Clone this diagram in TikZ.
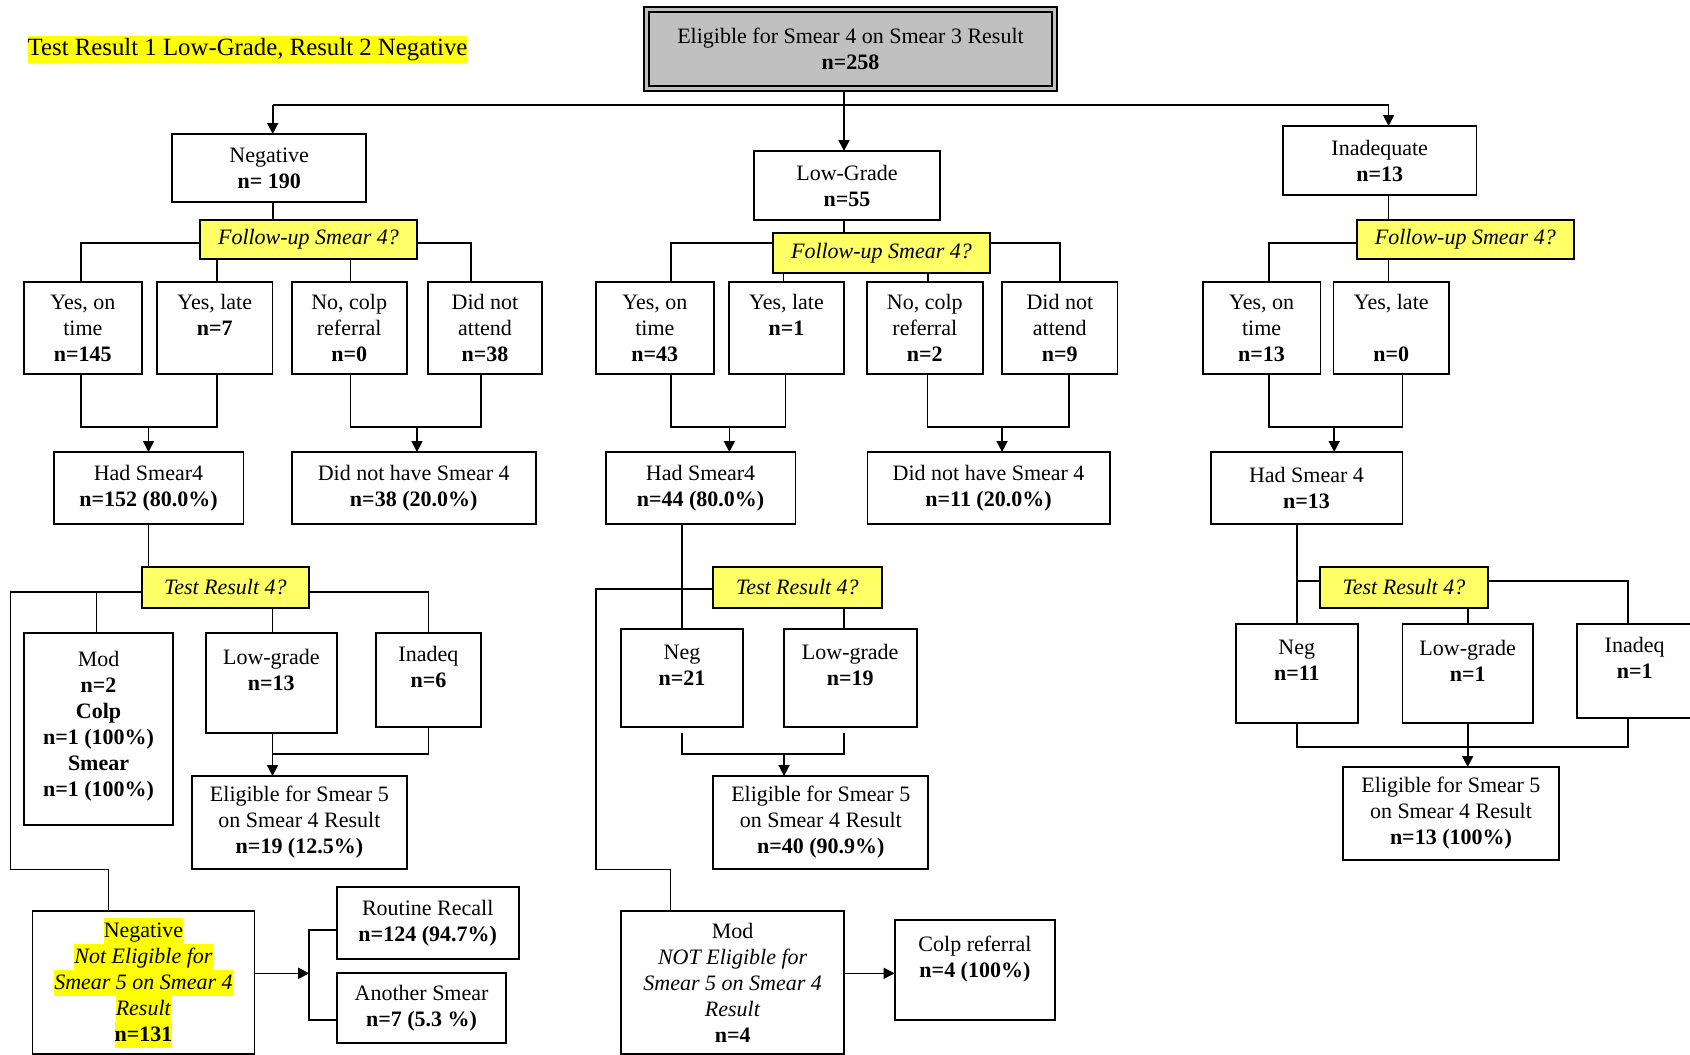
\documentclass[tikz,border=0pt]{standalone}
\usepackage{fontspec}
\setmainfont{Liberation Serif}
\usetikzlibrary{arrows.meta,backgrounds}
\definecolor{ylw}{RGB}{255,255,102}
\definecolor{hlyel}{RGB}{255,255,0}
\definecolor{topgray}{RGB}{192,192,192}
\newcommand\bxfont{\fontsize{22}{26}\selectfont}
\newcommand\hlt[1]{{\setlength{\fboxsep}{0pt}\colorbox{hlyel}{\rule[-6.5pt]{0pt}{26pt}#1}}}
\newcommand\bx[7][]{\node[box,minimum width={#5-#3},minimum height={#6-#4},#1] (#2) at ({(#3+#5)/2},{(#4+#6)/2}) {#7};}
\tikzset{
  box/.style={draw, line width=1.8pt, fill=white, inner sep=0pt, outer sep=0pt, align=center, font=\bxfont},
  ybox/.style={fill=ylw},
  conn/.style={line width=1.6pt},
  arr/.style={conn, -{Triangle[length=11pt,width=11pt]}},
}
\begin{document}
\begin{tikzpicture}[x=1pt,y=-1pt]
\useasboundingbox (0,0) rectangle (1690,1055);

% title
\node[fill=hlyel, inner sep=0pt, anchor=west, text height=19pt, text depth=8pt, font=\fontsize{24.8}{28}\selectfont] (ttl) at (27.5,49.5) {Test Result 1 Low-Grade, Result 2 Negative};

% top
\bx[fill=topgray,line width=2.5pt]{top}{644}{7}{1057}{91}{Eligible for Smear 4 on Smear 3 Result\\\textbf{n=258}}
\draw[line width=1.3pt] ([shift={(5,5)}]top.north west) rectangle ([shift={(-5,-5)}]top.south east);

% left branch
\bx{neg}{172.2}{134}{366.2}{202}{Negative\\\textbf{n= 190}}
\bx[ybox]{fuA}{200}{220}{417}{259}{\textit{Follow-up Smear 4?}}
\bx{a1}{24.1}{282}{141.6}{374}{Yes, on\\time\\\textbf{n=145}}
\bx{a2}{156.9}{282}{272.5}{374}{Yes, late\\\textbf{n=7}\\~}
\bx{a3}{291.6}{282}{406.8}{374}{No, colp\\referral\\\textbf{n=0}}
\bx{a4}{428.2}{282}{541.9}{374}{Did not\\attend\\\textbf{n=38}}
\bx{had1}{53.6}{452}{243.4}{524}{Had Smear4\\\textbf{n=152 (80.0\%)}}
\bx{dn1}{291.6}{452}{535.8}{524}{Did not have Smear 4\\\textbf{n=38 (20.0\%)}}
\bx[ybox]{tr1}{141.6}{567}{309.2}{608}{\textit{Test Result 4?}}
\bx{mod1}{24.1}{633}{173}{825}{Mod\\\textbf{n=2}\\\textbf{Colp}\\\textbf{n=1 (100\%)}\\\textbf{Smear}\\\textbf{n=1 (100\%)}\\[-16pt]\mbox{}}
\bx{lg1}{205.9}{633}{336.8}{733}{Low-grade\\\textbf{n=13}\\~}
\bx{inq1}{375.8}{633}{481}{727}{Inadeq\\\textbf{n=6}\\~}
\bx{el1}{192.1}{776}{406.8}{869}{Eligible for Smear 5\\on Smear 4 Result\\\textbf{n=19 (12.5\%)}}
\bx{nn1}{32.5}{911}{254.5}{1054}{\hlt{Negative}\\\hlt{\textit{Not Eligible for}}\\\hlt{\textit{Smear 5 on Smear 4}}\\\hlt{\textit{Result}}\\\hlt{\textbf{n=131}}}
\bx{rr}{336.8}{887.3}{518.6}{959.3}{Routine Recall\\\textbf{n=124 (94.7\%)}}
\bx{as}{336.8}{973.3}{506.3}{1043.3}{Another Smear\\\textbf{n=7 (5.3 \%)}}

% middle branch
\bx{lg2}{754}{151}{940}{220}{Low-Grade\\\textbf{n=55}}
\bx[ybox]{fuB}{773}{233}{990}{273}{\textit{Follow-up Smear 4?}}
\bx{c1}{596.1}{282}{713.6}{374}{Yes, on\\time\\\textbf{n=43}}
\bx{c2}{729}{282}{844}{374}{Yes, late\\\textbf{n=1}\\~}
\bx{c3}{867}{282}{982.6}{374}{No, colp\\referral\\\textbf{n=2}}
\bx{c4}{1002.1}{282}{1117.5}{374}{Did not\\attend\\\textbf{n=9}}
\bx{had2}{605.6}{452}{795.5}{524}{Had Smear4\\\textbf{n=44 (80.0\%)}}
\bx{dn2}{867.4}{452}{1109.7}{524}{Did not have Smear 4\\\textbf{n=11 (20.0\%)}}
\bx[ybox]{tr2}{713.2}{567}{881.6}{608}{\textit{Test Result 4?}}
\bx{ng2}{621.3}{629}{742.6}{727}{Neg\\\textbf{n=21}\\~}
\bx{lg3}{783.6}{629}{916.8}{727}{Low-grade\\\textbf{n=19}\\~}
\bx{el2}{713.2}{776}{928.3}{869}{Eligible for Smear 5\\on Smear 4 Result\\\textbf{n=40 (90.9\%)}}
\bx{md2}{621.3}{911}{844}{1054}{Mod\\\textit{NOT Eligible for}\\\textit{Smear 5 on Smear 4}\\\textit{Result}\\\textbf{n=4}}
\bx{cr}{894.6}{920}{1055.3}{1020}{Colp referral\\\textbf{n=4 (100\%)}\\~}

% right branch
\bx{inad}{1283}{126}{1476.4}{195}{Inadequate\\\textbf{n=13}}
\bx[ybox]{fuC}{1356.6}{220}{1574}{259}{\textit{Follow-up Smear 4?}}
\bx{e1}{1202.7}{282}{1320.5}{374}{Yes, on\\time\\\textbf{n=13}}
\bx{e2}{1333.5}{282}{1449}{374}{Yes, late\\~\\\textbf{n=0}}
\bx{had3}{1210.6}{452}{1402.4}{524}{Had Smear 4\\\textbf{n=13}}
\bx[ybox]{tr3}{1320}{567}{1488}{608}{\textit{Test Result 4?}}
\bx{ng3}{1236}{624}{1357.6}{723}{Neg\\\textbf{n=11}\\~}
\bx{lg4}{1402.4}{624}{1533}{723}{Low-grade\\\textbf{n=1}\\~}
\bx{iq3}{1577.3}{624}{1692}{718}{Inadeq\\\textbf{n=1}\\~}
\bx{el3}{1343.2}{767}{1558.7}{860}{Eligible for Smear 5\\on Smear 4 Result\\\textbf{n=13 (100\%)}}

\begin{pgfonlayer}{background}
\fill[white] (0,0) rectangle (1690,1055);
\coordinate (b0) at (0,105);
\coordinate (b1) at (0,243);
\coordinate (j1) at (0,427);
\coordinate (j3) at (0,754);
\coordinate (j4) at (0,746.7);
\coordinate (b4) at (0,581);
\coordinate (L1) at (10.3,591.7);
\coordinate (L2) at (10.3,869.3);
\coordinate (M1) at (596,589);
\coordinate (M2) at (596,869.3);
\coordinate (bk) at (309.2,973.3);

% top level
\draw[arr] ([xshift=-3pt]lg2.north |- top.south) -- ([xshift=-3pt]lg2.north);
\draw[arr] ([xshift=3.5pt]neg.north |- b0) -- ([xshift=3.5pt]neg.north);
\draw[arr] ([xshift=3.5pt]neg.north |- b0) -- ([xshift=8.9pt]inad.north |- b0) -- ([xshift=8.9pt]inad.north);

% left
\draw[conn] ([xshift=3.5pt]neg.south) -- ([xshift=3.5pt]neg.south |- fuA.north);
\draw[conn] ([xshift=-2.1pt]a1.north) |- (fuA.west |- b1);
\draw[conn] ([xshift=-14pt]a4.north) |- (fuA.east |- b1);
\draw[conn] ([xshift=2.3pt]a2.north) -- ([xshift=2.3pt]a2.north |- fuA.south);
\draw[conn] ([xshift=1.3pt]a3.north) -- ([xshift=1.3pt]a3.north |- fuA.south);
\draw[conn] ([xshift=-2.1pt]a1.south) |- ([xshift=2.3pt]a2.south |- j1) -- ([xshift=2.3pt]a2.south);
\draw[arr] (had1.north |- j1) -- (had1.north);
\draw[conn] ([xshift=1.3pt]a3.south) |- ([xshift=-4pt]a4.south |- j1) -- ([xshift=-4pt]a4.south);
\draw[arr] ([xshift=3.3pt]dn1.north |- j1) -- ([xshift=3.3pt]dn1.north);
\draw[conn] (had1.south) -- (had1.south |- tr1.north);
\draw[conn] (tr1.west |- L1) -- (L1) -- (L2) -| ([xshift=-35.2pt]nn1.north);
\draw[conn] ([xshift=-2.1pt]mod1.north) -- ([xshift=-2.1pt]mod1.north |- L1);
\draw[conn] (tr1.east |- L1) -| (inq1.north);
\draw[conn] ([xshift=1.2pt]lg1.north) -- ([xshift=1.2pt]lg1.north |- tr1.south);
\draw[conn] (inq1.south) |- ([xshift=1.2pt]lg1.south |- j3);
\draw[arr] ([xshift=1.2pt]lg1.south) -- ([xshift=1.2pt]lg1.south |- el1.north);
\draw[arr] (nn1.east |- bk) -- (bk);
\draw[conn] ([yshift=-6.7pt]rr.west) -| (bk) |- ([yshift=-11.7pt]as.west);

% middle
\draw[conn] ([xshift=-3pt]lg2.south) -- ([xshift=-3pt]lg2.south |- fuB.north);
\draw[conn] ([xshift=15.9pt]c1.north) |- (fuB.west |- b1);
\draw[conn] (c4.north) |- (fuB.east |- b1);
\draw[conn] ([xshift=-2.9pt]c2.north) -- ([xshift=-2.9pt]c2.north |- fuB.south);
\draw[conn] ([xshift=3.2pt]c3.north) -- ([xshift=3.2pt]c3.north |- fuB.south);
\draw[conn] ([xshift=15.9pt]c1.south) |- ([xshift=-1pt]c2.south |- j1) -- ([xshift=-1pt]c2.south);
\draw[arr] ([xshift=28.8pt]had2.north |- j1) -- ([xshift=28.8pt]had2.north);
\draw[conn] ([xshift=2.7pt]c3.south) |- ([xshift=8.9pt]c4.south |- j1) -- ([xshift=8.9pt]c4.south);
\draw[arr] ([xshift=13.5pt]dn2.north |- j1) -- ([xshift=13.5pt]dn2.north);
\draw[conn] (ng2.north |- had2.south) -- (ng2.north);
\draw[conn] (tr2.west |- M1) -- (M1) -- (M2) -| ([xshift=-62pt]md2.north);
\draw[conn] ([xshift=-6.2pt]lg3.north) -- ([xshift=-6.2pt]lg3.north |- tr2.south);
\draw[conn] ([yshift=-6pt]ng2.south) |- ([xshift=-6.2pt]lg3.south |- j3) -- ([xshift=-6.2pt,yshift=-6pt]lg3.south);
\draw[arr] ([xshift=-36.7pt]el2.north |- j3) -- ([xshift=-36.7pt]el2.north);
\draw[arr] (md2.east |- bk) -- (cr.west |- bk);

% right
\draw[conn] ([xshift=8.9pt]inad.south) -- ([xshift=8.9pt]inad.south |- fuC.north);
\draw[conn] ([xshift=7.4pt]e1.north) |- (fuC.west |- b1);
\draw[conn] ([xshift=-2.6pt]e2.north) -- ([xshift=-2.6pt]e2.north |- fuC.south);
\draw[conn] ([xshift=7.4pt]e1.south) |- ([xshift=11.2pt]e2.south |- j1) -- ([xshift=11.2pt]e2.south);
\draw[arr] ([xshift=27.7pt]had3.north |- j1) -- ([xshift=27.7pt]had3.north);
\draw[conn] (ng3.north |- had3.south) -- (ng3.north);
\draw[conn] (ng3.north |- b4) -- (tr3.west |- b4);
\draw[conn] (tr3.east |- b4) -| ([xshift=-6.4pt]iq3.north);
\draw[conn] (lg4.north |- tr3.south) -- (lg4.north);
\draw[conn] (ng3.south) |- ([xshift=-6.4pt]iq3.south |- j4) -- ([xshift=-6.4pt]iq3.south);
\draw[arr] (lg4.south) -- (lg4.south |- el3.north);
\end{pgfonlayer}
\end{tikzpicture}
\end{document}
